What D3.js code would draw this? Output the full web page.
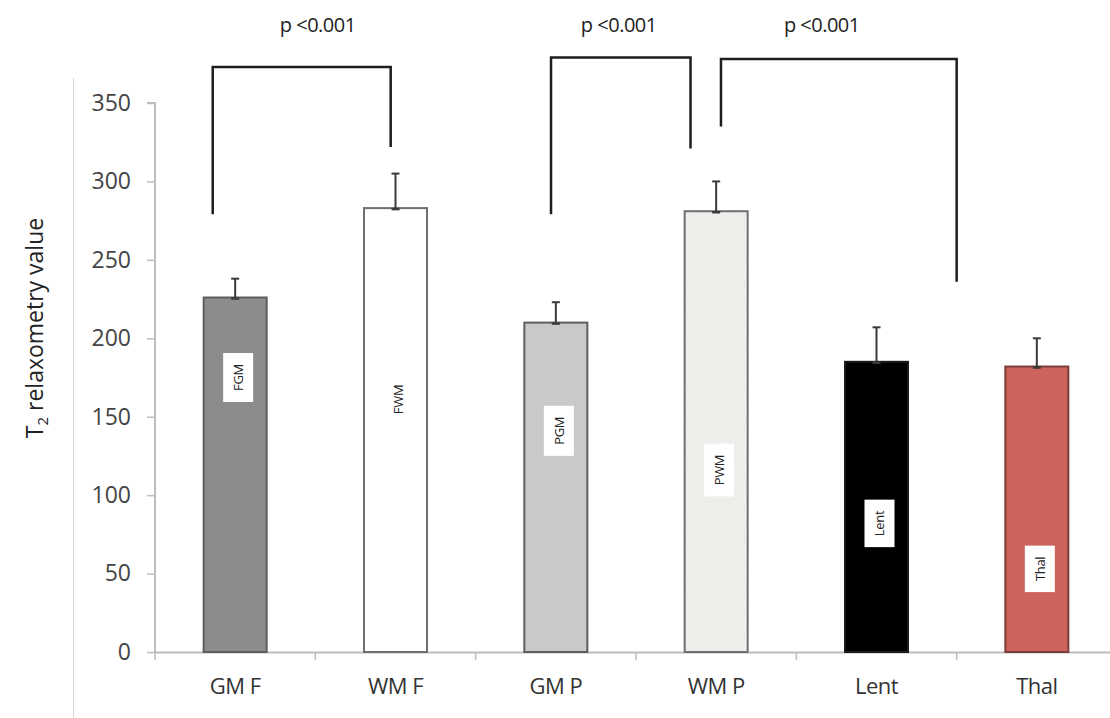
<!DOCTYPE html>
<html>
<head>
<meta charset="utf-8">
<script src="https://cdn.jsdelivr.net/npm/d3@7"></script>
<style>
  html, body { margin: 0; padding: 0; background: #fff; }
  svg { display: block; }
  text { font-family: "Open Sans", "DejaVu Sans", sans-serif; }
</style>
</head>
<body>
<svg id="chart" width="1110" height="718"></svg>
<script>
// Regions measured and their mean T2 relaxometry values with SD (upper bar only)
const categories = ["GM F", "WM F", "GM P", "WM P", "Lent", "Thal"];
const means      = [226, 283, 210, 281, 185, 182];
const sds        = [12, 22, 13, 19, 22, 18];
const innerLabels = ["FGM", "FWM", "PGM", "PWM", "Lent", "Thal"];
const innerLabelAt = [175, 161, 141, 116, 82, 53];   // value at which each tag sits
const yTicks = [0, 50, 100, 150, 200, 250, 300, 350];
const yLabel = "relaxometry value";

// Significance brackets: category indices, end heights (value units), bar height
const bracketFrom   = [0, 2, 3];
const bracketTo     = [1, 3, 4];
const bracketLeftY  = [279, 279, 335];
const bracketRightY = [322, 321, 236];
const bracketTopY   = [373, 379, 378];
const bracketText   = ["p <0.001", "p <0.001", "p <0.001"];

const fills   = ["#8c8c8c", "#ffffff", "#c9c9c9", "#efefeb", "#000000", "#cc645c"];
const strokes = ["#5e5e5e", "#6f6f6f", "#5e5e5e", "#6f6f6f", "#1a1a1a", "#7a3c36"];

const svg = d3.select("#chart");

const x = d3.scaleBand().domain(categories).range([155, 1117]).paddingInner(0).paddingOuter(0);
const y = d3.scaleLinear().domain([0, 350]).range([652, 103]);
const barW = 63;

// speckle texture for the WM P bar
const defs = svg.append("defs");
const filt = defs.append("filter").attr("id", "speckle").attr("x", 0).attr("y", 0).attr("width", 1).attr("height", 1);
filt.append("feTurbulence").attr("type", "fractalNoise").attr("baseFrequency", 0.9).attr("numOctaves", 2).attr("seed", 3).attr("result", "noise");
filt.append("feColorMatrix").attr("in", "noise").attr("type", "matrix")
  .attr("values", "0 0 0 0 0.78  0 0 0 0 0.78  0 0 0 0 0.76  0 0 0 -1.8 1.15").attr("result", "dots");
filt.append("feFlood").attr("flood-color", "#f1f1ee").attr("result", "bg");
filt.append("feComposite").attr("in", "dots").attr("in2", "bg").attr("operator", "over");

// outer frame line on the left
svg.append("line").attr("x1", 73.5).attr("x2", 73.5).attr("y1", 78).attr("y2", 718)
  .attr("stroke", "#d4d4d4").attr("stroke-width", 1);

// y axis
const yAxis = d3.axisLeft(y).tickValues(yTicks).tickSize(8).tickPadding(16).tickFormat(d3.format("d"));
const gy = svg.append("g").attr("transform", "translate(155,0)").call(yAxis);
gy.select(".domain").attr("stroke", "#bdbdbd").attr("stroke-width", 2).attr("d", `M-8,${y(350)}H0V${y(0)}`);
gy.selectAll(".tick line").attr("stroke", "#bdbdbd").attr("stroke-width", 1.5);
gy.selectAll(".tick text").attr("fill", "#444").attr("font-size", 23).attr("font-family", "Open Sans, sans-serif");

// x axis
const xAxis = d3.axisBottom(x).tickSize(0).tickPadding(26);
const gx = svg.append("g").attr("transform", `translate(0,${y(0)})`).call(xAxis);
gx.select(".domain").attr("stroke", "#bdbdbd").attr("stroke-width", 2);
gx.selectAll(".tick text").attr("fill", "#333").attr("font-size", 22).attr("dy", "0.71em")
  .attr("font-family", "Open Sans, sans-serif").attr("letter-spacing", -0.5);
// ticks at the band boundaries
const bounds = categories.map(c => x(c)).concat([x.range()[1]]);
gx.selectAll(".bound").data(bounds).join("line").attr("class", "bound")
  .attr("x1", d => d).attr("x2", d => d).attr("y1", 0).attr("y2", 8)
  .attr("stroke", "#bdbdbd").attr("stroke-width", 1.5);

// y axis title with subscript
const title = svg.append("text")
  .attr("transform", `translate(43,${328}) rotate(-90)`)
  .attr("text-anchor", "middle").attr("font-size", 23).attr("fill", "#222");
title.append("tspan").text("T");
title.append("tspan").attr("font-size", 15).attr("dy", 5).text("2");
title.append("tspan").attr("dy", -5).text(" " + yLabel);

// bars
const cx = i => x(categories[i]) + x.bandwidth() / 2;
const bars = svg.append("g");
categories.forEach((c, i) => {
  const r = bars.append("rect")
    .attr("x", cx(i) - barW / 2).attr("y", y(means[i]))
    .attr("width", barW).attr("height", y(0) - y(means[i]))
    .attr("fill", fills[i]).attr("stroke", strokes[i]).attr("stroke-width", 2);
  if (c === "WM P") {
    r.attr("filter", "url(#speckle)");
    bars.append("rect")
      .attr("x", cx(i) - barW / 2).attr("y", y(means[i]))
      .attr("width", barW).attr("height", y(0) - y(means[i]))
      .attr("fill", "none").attr("stroke", strokes[i]).attr("stroke-width", 2);
  }
});

// error bars (upper only)
const err = svg.append("g").attr("stroke", "#3a3a3a");
categories.forEach((c, i) => {
  const xc = cx(i);
  err.append("line").attr("x1", xc).attr("x2", xc).attr("y1", y(means[i])).attr("y2", y(means[i] + sds[i])).attr("stroke-width", 2);
  err.append("line").attr("x1", xc - 4).attr("x2", xc + 4).attr("y1", y(means[i] + sds[i])).attr("y2", y(means[i] + sds[i])).attr("stroke-width", 2);
  err.append("line").attr("x1", xc - 4).attr("x2", xc + 4).attr("y1", y(means[i]) + 1).attr("y2", y(means[i]) + 1).attr("stroke-width", 2.5);
});

// tags inside the bars
const tags = svg.append("g");
innerLabels.forEach((t, i) => {
  const xc = cx(i) + 3;
  const yc = y(innerLabelAt[i]);
  const g = tags.append("g").attr("transform", `translate(${xc},${yc})`);
  const txt = g.append("text").attr("transform", "rotate(-90)")
    .attr("text-anchor", "middle").attr("dy", "0.36em")
    .attr("font-size", 13).attr("fill", "#222").attr("letter-spacing", -0.3).text(t);
  const len = txt.node().getComputedTextLength();
  g.insert("rect", "text").attr("x", -15).attr("y", -(len + 22) / 2)
    .attr("width", 30).attr("height", len + 22).attr("fill", "#fff");
});

// significance brackets
const br = svg.append("g").attr("fill", "none").attr("stroke", "#1e1e1e").attr("stroke-width", 2.5);
const bx = (idx, frac) => x(categories[idx]) + x.bandwidth() * frac;
const bracketLeftFrac  = [0.36, 0.47, 0.53];
const bracketRightFrac = [0.47, 0.34, 1.0];
const textShift = [16, -2, -17];
bracketFrom.forEach((f, k) => {
  const x1 = bx(f, bracketLeftFrac[k]);
  const x2 = bx(bracketTo[k], bracketRightFrac[k]);
  br.append("path").attr("d",
    `M${x1},${y(bracketLeftY[k])}V${y(bracketTopY[k])}H${x2}V${y(bracketRightY[k])}`);
  svg.append("text").attr("x", (x1 + x2) / 2 + textShift[k])
    .attr("y", 32).attr("text-anchor", "middle").attr("font-size", 20).attr("fill", "#222")
    .attr("letter-spacing", -0.5).text(bracketText[k]);
});
</script>
</body>
</html>
